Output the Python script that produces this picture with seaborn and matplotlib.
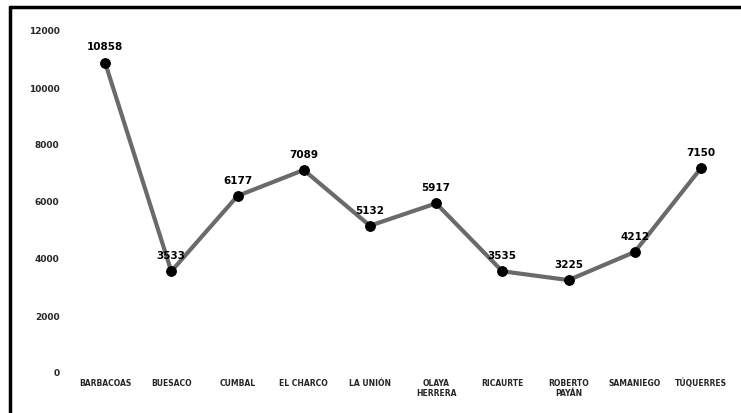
import matplotlib
matplotlib.use("Agg")
import matplotlib.pyplot as plt
import seaborn as sns
import pandas as pd
from matplotlib.lines import Line2D

categories = ["BARBACOAS", "BUESACO", "CUMBAL", "EL CHARCO", "LA UNIÓN",
              "OLAYA\nHERRERA", "RICAURTE", "ROBERTO\nPAYÁN", "SAMANIEGO", "TÚQUERRES"]
values = [10858, 3533, 6177, 7089, 5132, 5917, 3535, 3225, 4212, 7150]
yticks = [0, 2000, 4000, 6000, 8000, 10000, 12000]

sns.set_theme(style="white")
plt.rcParams['font.family'] = ['DejaVu Sans']

fig = plt.figure(figsize=(7.41, 4.14), dpi=100)
ax = fig.add_axes([72/741, 41/414, 662/741, 342/414])

df = pd.DataFrame({"cat": range(len(categories)), "val": values})
sns.lineplot(data=df, x="cat", y="val", ax=ax, color="#6a6a6a", linewidth=3,
             marker="o", markersize=7, markerfacecolor="black", markeredgecolor="black")

for i, v in enumerate(values):
    ax.annotate(str(v), (i, v), xytext=(0, 8), textcoords="offset points",
                ha="center", va="bottom", fontsize=7.5, fontweight="bold", color="black")

ax.set_xlim(-0.5, len(categories) - 0.5)
ax.set_ylim(0, 12000)
ax.set_yticks(yticks)
ax.set_yticklabels([f"{t}" for t in yticks], fontsize=6.5, fontweight="bold")
ax.set_xticks(range(len(categories)))
ax.set_xticklabels(categories, fontsize=5.5, fontweight="bold", va="top")
ax.tick_params(axis="x", length=0, pad=4)
ax.tick_params(axis="y", length=0, pad=9)
ax.set_xlabel("")
ax.set_ylabel("")
for s in ax.spines.values():
    s.set_visible(False)

# outer scanned frame
fig.add_artist(Line2D([10/741, 10/741], [0, 1 - 8/414], transform=fig.transFigure, color="black", linewidth=2.5))
fig.add_artist(Line2D([10/741, 1], [1 - 8/414, 1 - 8/414], transform=fig.transFigure, color="black", linewidth=2.5))

fig.savefig("out.png", dpi=100, facecolor="white")
